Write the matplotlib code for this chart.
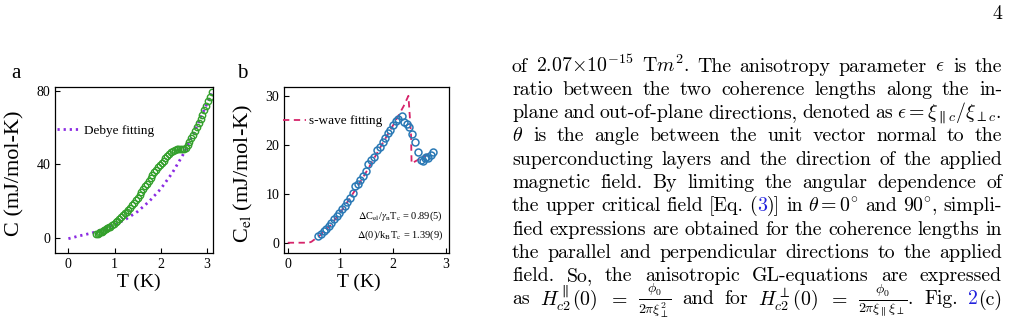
import matplotlib
matplotlib.use('Agg')
import matplotlib.pyplot as plt

W, H = 1011, 328

# panel a : total specific heat
t_a = [0.60, 0.63, 0.66, 0.69, 0.72, 0.75, 0.78, 0.81, 0.84, 0.87, 0.90, 0.94, 0.98,
       1.02, 1.06, 1.10, 1.14, 1.18, 1.22, 1.26, 1.30, 1.34, 1.38, 1.42, 1.46, 1.50,
       1.54, 1.58, 1.62, 1.66, 1.70, 1.74, 1.78, 1.82, 1.86, 1.90, 1.94, 1.98, 2.02,
       2.06, 2.10, 2.14, 2.18, 2.22, 2.26, 2.30, 2.34, 2.38, 2.42, 2.46, 2.50, 2.54,
       2.58, 2.62, 2.66, 2.70, 2.74, 2.78, 2.82, 2.86, 2.90, 2.94, 2.98, 3.02, 3.06, 3.10]
c_a = [1.8, 2.1, 2.5, 2.9, 3.3, 3.8, 4.2, 4.7, 5.1, 5.6, 6.1, 6.8, 7.6,
       8.4, 9.3, 10.2, 11.1, 12.1, 13.2, 14.2, 15.3, 16.4, 17.6, 18.9, 20.3, 21.8,
       23.3, 24.8, 26.4, 28.0, 29.5, 31.0, 32.6, 34.1, 35.6, 37.0, 38.3, 39.6, 40.8,
       42.0, 43.2, 44.4, 45.5, 46.5, 47.3, 47.9, 48.3, 48.5, 48.5, 48.3, 48.2, 48.8,
       50.4, 52.2, 54.1, 56.0, 58.1, 60.2, 62.4, 64.7, 67.0, 69.4, 71.8, 74.2, 76.6, 79.2]
t_debye = [0.0, 0.25, 0.5, 0.75, 1.0, 1.25, 1.5, 1.75, 2.0, 2.25, 2.5, 2.75, 3.0, 3.1]
c_debye = [-0.5, 1.1, 2.5, 4.5, 7.0, 10.2, 14.3, 19.8, 26.6, 35.3, 46.0, 59.0, 73.0, 78.5]

# panel b : electronic specific heat
t_b = [0.58, 0.63, 0.68, 0.73, 0.78, 0.83, 0.88, 0.93, 0.98, 1.03, 1.08, 1.13, 1.18,
       1.23, 1.28, 1.33, 1.38, 1.43, 1.48, 1.53, 1.58, 1.63, 1.70, 1.75, 1.80, 1.85,
       1.90, 1.95, 2.00, 2.05, 2.10, 2.16, 2.21, 2.26, 2.31, 2.36, 2.41, 2.47, 2.53,
       2.56, 2.60, 2.62, 2.66, 2.71, 2.75]
c_b = [1.4, 1.8, 2.3, 2.9, 3.5, 4.1, 4.8, 5.4, 6.1, 6.9, 7.6, 8.4, 9.1,
       10.1, 11.5, 11.9, 12.8, 13.7, 14.6, 16.0, 16.9, 17.6, 18.9, 19.6, 20.5, 21.4,
       22.4, 23.1, 24.0, 24.9, 25.2, 25.8, 24.7, 24.3, 23.6, 22.2, 20.5, 18.5, 16.8,
       16.7, 17.2, 17.6, 17.3, 17.9, 18.5]
t_swave = [0.0, 0.40, 0.45, 0.50, 0.60, 0.80, 1.0, 1.2, 1.4, 1.6, 1.8, 2.0, 2.2, 2.29,
           2.34, 2.35, 2.75]
c_swave = [0.0, 0.0, 0.2, 0.6, 1.4, 3.4, 6.2, 9.4, 12.8, 16.5, 20.3, 24.0, 27.9, 30.0,
           22.0, 16.2, 18.6]

# words are split on spaces, so math must not contain any; §...§ marks blue links
text_lines = [
    r"of $2.07{\times}10^{-15}$ T$m^2$. The anisotropy parameter $\epsilon$ is the",
    r"ratio between the two coherence lengths along the in-",
    r"plane and out-of-plane directions, denoted as $\epsilon=\xi_{{\parallel}c}/\xi_{{\perp}c}$.",
    r"$\theta$ is the angle between the unit vector normal to the",
    r"superconducting layers and the direction of the applied",
    r"magnetic field. By limiting the angular dependence of",
    r"the upper critical field [Eq. (§3§)] in $\theta=0^{\circ}$ and $90^{\circ}$, simpli-",
    r"fied expressions are obtained for the coherence lengths in",
    r"the parallel and perpendicular directions to the applied",
    r"field. So, the anisotropic GL-equations are expressed",
    r"as $H_{c2}^{\parallel}(0)$ $=$ $\frac{\phi_0}{2\pi\xi_\perp^2}$ and for "
    r"$H_{c2}^{\perp}(0)$ $=$ $\frac{\phi_0}{2\pi\xi_\parallel\xi_\perp}$. Fig. §2§(c)",
]

green = '#34a02c'
purple = '#8b2be2'
pink = '#d6246a'
blue = '#2a79b5'
link = '#2222dd'
serif = 'Liberation Serif'

fig = plt.figure(figsize=(W / 100, H / 100), dpi=100)


def style(ax):
    ax.tick_params(direction='in', length=3.5, width=0.8, labelsize=10, top=False, right=False)
    for lab in ax.get_xticklabels() + ax.get_yticklabels():
        lab.set_family(serif)
    for s in ax.spines.values():
        s.set_linewidth(0.9)


# ---- panel a
axa = fig.add_axes([55 / W, 1 - 253 / H, 158 / W, 166 / H])
axa.plot(t_debye, c_debye, ls=(0, (0.8, 1.4)), lw=2, color=purple, label='Debye fitting')
axa.plot(t_a, c_a, 'o', mfc='none', mec=green, ms=4.6, mew=1.0)
axa.set_xlim(-0.29, 3.13)
axa.set_ylim(-8.3, 82)
axa.set_xticks([0, 1, 2, 3])
axa.set_yticks([0, 40, 80])
style(axa)
axa.set_xlabel('T (K)', family=serif, fontsize=14, va='center')
axa.xaxis.set_label_coords(0.53, -0.179)
axa.set_ylabel('C (mJ/mol-K)', family=serif, fontsize=16, va='center')
axa.yaxis.set_label_coords(-0.253, 0.48)
axa.legend(loc='center left', bbox_to_anchor=(0.01, 0.735), frameon=False, borderpad=0,
           borderaxespad=0, handlelength=1.75, handletextpad=0.35,
           prop={'family': serif, 'size': 9.5})

# ---- panel b
axb = fig.add_axes([284.3 / W, 1 - 253 / H, 164.7 / W, 166 / H])
axb.plot(t_swave, c_swave, ls=(0, (3.5, 2.5)), lw=1.3, color=pink, label='s-wave fitting')
axb.plot(t_b, c_b, 'o', mfc='none', mec=blue, ms=5.0, mew=1.1)
axb.set_xlim(-0.065, 3.06)
axb.set_ylim(-2.1, 31.8)
axb.set_xticks([0, 1, 2, 3])
axb.set_yticks([0, 10, 20, 30])
style(axb)
axb.set_xlabel('T (K)', family=serif, fontsize=14, va='center')
axb.xaxis.set_label_coords(0.454, -0.179)
axb.set_ylabel(r'C$_{\rm el}$ (mJ/mol-K)', family=serif, fontsize=16, va='center',
               math_fontfamily='stix')
axb.yaxis.set_label_coords(-0.245, 0.48)
axb.legend(loc='center left', bbox_to_anchor=(-0.01, 0.795), frameon=False, borderpad=0,
           borderaxespad=0, handlelength=1.75, handletextpad=0.25,
           prop={'family': serif, 'size': 9.5})
axb.text(0.963, 0.223, r'$\Delta$C$_{\rm el}$/$\gamma_{\rm n}$T$_{\rm c}$ = 0.89(5)',
         transform=axb.transAxes, ha='right', va='center', family=serif, fontsize=7.5,
         math_fontfamily='stix')
axb.text(0.963, 0.108, r'$\Delta$(0)/k$_{\rm B}$T$_{\rm c}$ = 1.39(9)',
         transform=axb.transAxes, ha='right', va='center', family=serif, fontsize=7.5,
         math_fontfamily='stix')

fig.text(16 / W, 1 - 78.5 / H, 'a', family=serif, fontsize=15, ha='center', va='baseline')
fig.text(242 / W, 1 - 78.5 / H, 'b', family=serif, fontsize=15, ha='center', va='baseline')

# ---- justified text column on the right
fs = 14.3
x_left, x_right = 512, 1002
base0, step = 71.5, 23.3
renderer = fig.canvas.get_renderer()
fig.text(1002 / W, 1 - 19 / H, '4', family='cmr10', fontsize=fs, ha='right', va='baseline')

for i, line in enumerate(text_lines):
    y = 1 - (base0 + i * step) / H
    words = []
    for w in line.split(' '):
        objs = []
        for k, part in enumerate(w.split('§')):
            if not part:
                continue
            t = fig.text(0, y, part, family='cmr10', math_fontfamily='cm', fontsize=fs,
                         color=link if k % 2 else 'black', va='baseline')
            objs.append((t, t.get_window_extent(renderer).width))
        words.append(objs)
    total = sum(wd for objs in words for _, wd in objs)
    gap = (x_right - x_left - total) / (len(words) - 1)
    x = x_left
    for objs in words:
        for t, wd in objs:
            t.set_x(x / W)
            x += wd
        x += gap

fig.savefig('out.png', dpi=100)
